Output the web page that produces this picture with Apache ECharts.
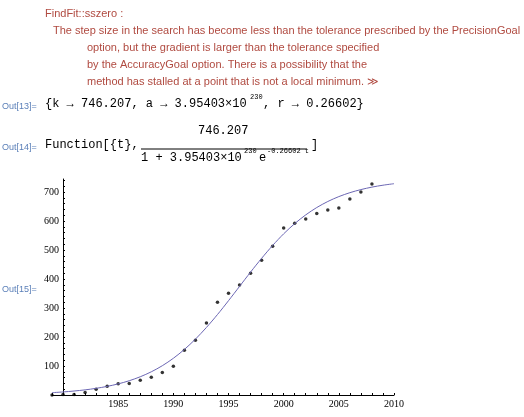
<!DOCTYPE html><html><head><meta charset="utf-8">
<script src="https://cdn.jsdelivr.net/npm/echarts@6/dist/echarts.min.js"></script>
<style>html,body{margin:0;background:#fff}#c{width:524px;height:417px}</style></head><body><div id="c"></div>
<script>
const years=[1979,1980,1981,1982,1983,1984,1985,1986,1987,1988,1989,1990,1991,1992,1993,1994,1995,1996,1997,1998,1999,2000,2001,2002,2003,2004,2005,2006,2007,2008];
const dataValues=[0,2,2,9,20,30,39,40,51,61,78,99,154,189,248,320,351,379,420,465,513,576,592,607,626,638,645,676,700,728];
const fitYears=[1979,1980,1981,1982,1983,1984,1985,1986,1987,1988,1989,1990,1991,1992,1993,1994,1995,1996,1997,1998,1999,2000,2001,2002,2003,2004,2005,2006,2007,2008,2009,2010];
const fitValues=[8.1,10.5,13.7,17.7,23.0,29.7,38.3,49.2,62.9,80.0,101.0,126.6,157.1,192.6,233.0,277.5,325.3,374.6,424.0,471.4,515.8,556.0,591.1,621.3,646.6,667.4,684.3,697.8,708.5,717.0,723.6,728.8];
const xTicks=[1985,1990,1995,2000,2005,2010];
const yTicks=[100,200,300,400,500,600,700];
const msg='#b04a40', outc='#5a7fb8', sans='"Liberation Sans",sans-serif', mono='"Liberation Mono",monospace';
const T=(x,y,t,f,c,s)=>({type:'text',left:x,top:y,style:{text:t,font:(s||11)+'px '+f,fill:c}});
const ch=echarts.init(document.getElementById('c'));
ch.setOption({animation:false,
grid:{left:52,right:130,top:179,bottom:22},
xAxis:{type:'value',min:1979,max:2010,interval:1,
 axisLine:{onZero:false,lineStyle:{color:'#000'}},
 axisTick:{inside:true,length:2,lineStyle:{color:'#000'}},
 axisLabel:{color:'#000',fontFamily:'"Liberation Serif",serif',fontSize:10,margin:4,
  formatter:v=>xTicks.includes(v)?String(v):''},
 splitLine:{show:false}},
yAxis:{type:'value',min:0,max:745,interval:20,offset:-11,
 axisLine:{show:true,lineStyle:{color:'#000'}},
 axisTick:{inside:true,length:2,lineStyle:{color:'#000'}},
 axisLabel:{color:'#000',fontFamily:'"Liberation Serif",serif',fontSize:10,margin:4,
  formatter:v=>yTicks.includes(v)?String(v):'',showMaxLabel:false},
 splitLine:{show:false}},
series:[
 {type:'line',data:fitYears.map((y,i)=>[y,fitValues[i]]),smooth:0.3,showSymbol:false,lineStyle:{color:'#6b66b3',width:1}},
 {type:'scatter',data:years.map((y,i)=>[y,dataValues[i]]),symbolSize:3.5,itemStyle:{color:'#000'}}
],
graphic:[
 T(45,8,'FindFit::sszero :',sans,msg),
 T(53,25,'The step size in the search has become less than the tolerance prescribed by the PrecisionGoal',sans,msg),
 T(87,42,'option, but the gradient is larger than the tolerance specified',sans,msg),
 T(87,59,'by the AccuracyGoal option. There is a possibility that the',sans,msg),
 T(87,76,'method has stalled at a point that is not a local minimum. \u226B',sans,msg),
 T(2,102,'Out[13]=',sans,outc,9),
 T(45,98,'{k \u2192 746.207, a \u2192 3.95403\u00D710',mono,'#000',12),
 T(250,94,'230',mono,'#000',7),
 T(263,98,', r \u2192 0.26602}',mono,'#000',12),
 T(2,143,'Out[14]=',sans,outc,9),
 T(45,139,'Function[{t},',mono,'#000',12),
 T(198,125,'746.207',mono,'#000',12),
 {type:'line',shape:{x1:141,y1:149,x2:306,y2:149},style:{stroke:'#000',lineWidth:1}},
 T(141,152,'1 + 3.95403\u00D710',mono,'#000',12),
 T(244,148,'230',mono,'#000',7),
 T(259,152,'e',mono,'#000',12),
 T(267,148,'-0.26602 t',mono,'#000',7),
 T(311,139,']',mono,'#000',12),
 T(2,285,'Out[15]=',sans,outc,9)
]});
</script></body></html>
